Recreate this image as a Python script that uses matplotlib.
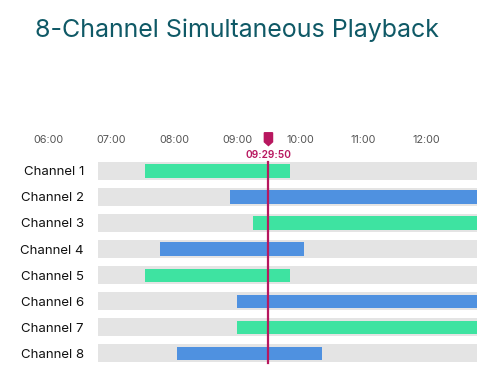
import matplotlib
matplotlib.use("Agg")
import matplotlib.pyplot as plt
from matplotlib.patches import Polygon

# data
channels = ["Channel 1", "Channel 2", "Channel 3", "Channel 4",
            "Channel 5", "Channel 6", "Channel 7", "Channel 8"]
starts = [7.53, 8.89, 9.25, 7.78, 7.53, 9.0, 9.0, 8.05]   # hours
ends = [9.84, 12.81, 12.81, 10.07, 9.84, 12.81, 12.81, 10.35]
kinds = ["green", "blue", "green", "blue", "green", "blue", "green", "blue"]
hour_ticks = [6, 7, 8, 9, 10, 11, 12]
tick_labels = ["06:00", "07:00", "08:00", "09:00", "10:00", "11:00", "12:00"]
track_start, track_end = 6.79, 12.81
playhead = 9 + 29 / 60 + 50 / 3600
playhead_label = "09:29:50"

colors = {"green": "#3ee3a1", "blue": "#4f91e0"}
track_color = "#e4e4e4"
accent = "#b8175f"

plt.rcParams["font.family"] = ["Inter", "DejaVu Sans"]

fig = plt.figure(figsize=(5, 3.82), dpi=100)
ax = fig.add_axes([0.196, 0.0393, 0.758, 0.547])

n = len(channels)
ys = list(range(n))
ax.barh(ys, [track_end - track_start] * n, left=track_start, height=0.69,
        color=track_color, zorder=1)
ax.barh(ys, [e - s for s, e in zip(starts, ends)], left=starts, height=0.52,
        color=[colors[k] for k in kinds], zorder=2)

ax.set_xlim(track_start, track_end)
ax.set_ylim(7.52, -0.5)
ax.axis("off")

# channel labels
for y, name in zip(ys, channels):
    ax.text(-0.037, y + 0.05, name, transform=ax.get_yaxis_transform(),
            ha="right", va="center", fontsize=9.5, color="#111111")

# time labels above
for h, lab in zip(hour_ticks, tick_labels):
    ax.text(h, -1.19, lab, ha="center", va="center", fontsize=7.8,
            color="#555555", clip_on=False)

# playhead
ax.plot([playhead, playhead], [-0.35, 7.36], color=accent, lw=1.6,
        zorder=3, clip_on=False)
ax.text(playhead, -0.6, playhead_label, ha="center", va="center",
        fontsize=7.3, color=accent, fontweight="semibold", clip_on=False)
w = 0.065
ax.add_patch(Polygon([(playhead - w, -1.47), (playhead + w, -1.47),
                      (playhead + w, -1.12), (playhead, -0.98),
                      (playhead - w, -1.12)], closed=True,
                     color=accent, clip_on=False, zorder=4))

fig.text(0.07, 0.922, "8-Channel Simultaneous Playback", fontsize=18,
         color="#0f5966", ha="left", va="center")

fig.savefig("out.png", dpi=100)
